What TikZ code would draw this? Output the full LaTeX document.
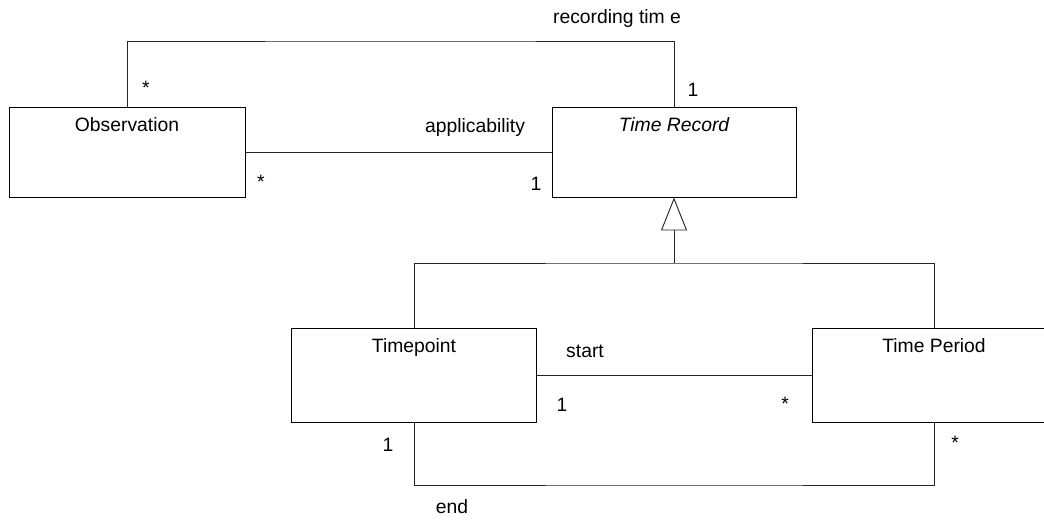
\documentclass[tikz,border=0pt]{standalone}
\usepackage{fontspec}
\setmainfont{Liberation Sans}
\usetikzlibrary{arrows.meta}
\tikzstyle{every node}=[font=\fontsize{14.5}{17}\selectfont]
\tikzstyle{umlclass}=[draw=black,line width=0.7pt,minimum height=67.5pt,inner sep=0pt]
\tikzstyle{classname}=[anchor=base,inner sep=0pt]
\tikzstyle{mult}=[inner sep=0pt]
\tikzstyle{assoc}=[draw=black!85,line width=0.7pt]

\begin{document}
\begin{tikzpicture}[x=0.75pt,y=-0.75pt]
  \clip (0,0) rectangle (1044,520);
  \useasboundingbox (0,0) rectangle (1044,520);
  \node[umlclass,minimum width=177pt] (obs) at (127,152) {};
  \node[umlclass,minimum width=183pt] (rec) at (674,152) {};
  \node[umlclass,minimum width=183.75pt,minimum height=70.5pt] (tpoint) at (414,375) {};
  \node[umlclass,minimum width=183pt,minimum height=70.5pt] (tperiod) at (934,375) {};
  \node[classname] (obsname) at ([yshift=-19pt]obs.north) {Observation};
  \node[classname] (recname) at ([yshift=-19pt]rec.north) {\itshape Time Record};
  \node[classname] (tpointname) at ([yshift=-19pt]tpoint.north) {Timepoint};
  \node[classname] (tperiodname) at ([yshift=-19pt]tperiod.north) {Time Period};
  \coordinate (rtop) at (400,41);
  \coordinate (gen) at (674,263);
  \coordinate (ebot) at (674,485);
  \draw[assoc] (obs.north) |- (rtop) -| (rec.north);
  \draw[assoc] (obs.east) -- (rec.west);
  \draw[assoc,-{Triangle[open,length=24.75pt,width=19.5pt]}] (gen) -- (rec.south);
  \draw[assoc] (tpoint.north) |- (gen) -| (tperiod.north);
  \draw[assoc] (tpoint.east) -- (tperiod.west);
  \draw[assoc] (tpoint.south) |- (ebot) -| (tperiod.south);
  \node[mult] (rlabel) at (617,19) {recording tim e};
  \node[mult] (rmany) at (146,88) {*};
  \node[mult] (rone) at (693,90) {1};
  \node[mult] (alabel) at (475,128) {applicability};
  \node[mult] (amany) at (261,182) {*};
  \node[mult] (aone) at (536,184) {1};
  \node[mult] (slabel) at (585,351) {start};
  \node[mult] (sone) at (562,405) {1};
  \node[mult] (smany) at (785,404) {*};
  \node[mult] (eone) at (388,445) {1};
  \node[mult] (emany) at (955,443) {*};
  \node[mult] (elabel) at (452,507) {end};
\end{tikzpicture}
\end{document}
